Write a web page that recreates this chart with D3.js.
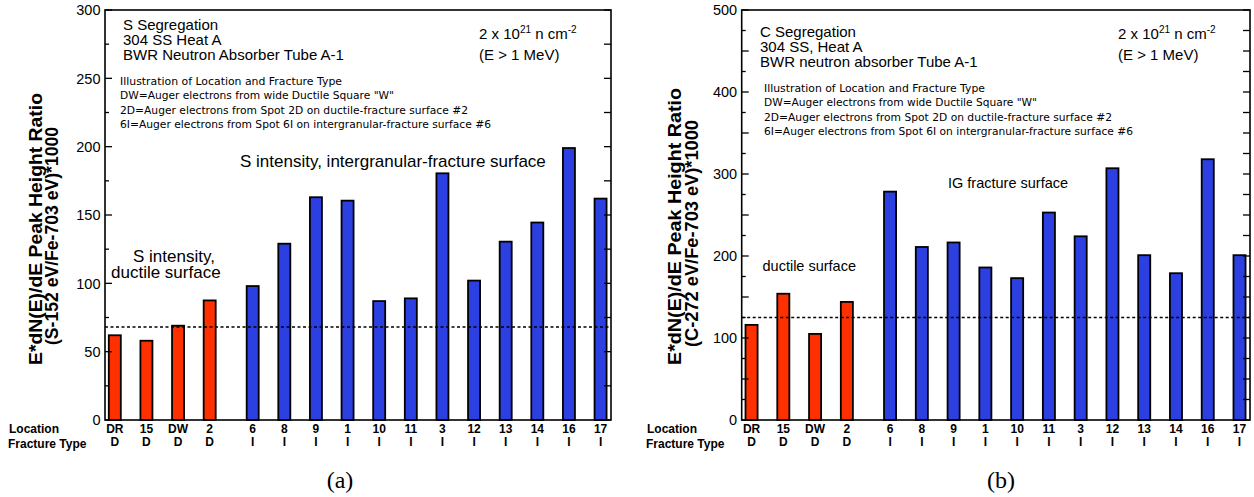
<!DOCTYPE html>
<html>
<head>
<meta charset="utf-8">
<script src="https://cdn.jsdelivr.net/npm/d3@7"></script>
<style>
  body { margin: 0; background: #fff; }
  svg { display: block; }
</style>
</head>
<body>
<svg id="chart" width="1254" height="497"></svg>
<script>
// Auger peak-height ratios per analysed spot (location / fracture type)
const locations = ["DR", "15", "DW", "2", "6", "8", "9", "1", "10", "11", "3", "12", "13", "14", "16", "17"];
const fractureTypes = ["D", "D", "D", "D", "I", "I", "I", "I", "I", "I", "I", "I", "I", "I", "I", "I"];
const sulfurRatio = [62, 58, 69, 87.5, 98, 129, 163, 160.5, 87, 89, 180.5, 102, 130.5, 144.5, 199, 162];
const carbonRatio = [116, 154, 105, 144, 278.5, 211, 216.5, 186, 173, 253, 224, 307, 201, 179, 318, 201];
const sulfurDuctileLevel = 68;
const carbonDuctileLevel = 125;
const sulfurTicks = [0, 50, 100, 150, 200, 250, 300];
const carbonTicks = [0, 100, 200, 300, 400, 500];
const legendLines = [
  "Illustration of Location and Fracture Type",
  "DW=Auger electrons from wide Ductile Square \"W\"",
  "2D=Auger electrons from Spot 2D on ductile-fracture surface #2",
  "6I=Auger electrons from Spot 6I on intergranular-fracture surface #6"
];

const SANS = "'Liberation Sans', Arial, Helvetica, sans-serif";
const SMALL = "'DejaVu Sans', 'Lucida Grande', sans-serif";
const RED = "#ff3000";
const BLUE = "#2c3fe0";
const GROUP_GAP = 0.36;   // extra space between ductile and intergranular spots

const svg = d3.select("#chart");

function drawPanel(p) {
  const g = svg.append("g");
  const x = d3.scaleLinear()
    .domain([-0.31, locations.length - 1 + GROUP_GAP + 0.33])
    .range([p.left, p.right]);
  const y = d3.scaleLinear().domain([0, p.yMax]).range([p.bottom, p.top]);
  const slot = i => i + (fractureTypes[i] === "I" ? GROUP_GAP : 0);
  const barW = x(0.38) - x(0);

  // bars
  g.selectAll("rect.bar").data(p.values).join("rect")
    .attr("class", "bar")
    .attr("x", (d, i) => x(slot(i)) - barW / 2)
    .attr("y", d => y(d))
    .attr("width", barW)
    .attr("height", d => y(0) - y(d))
    .attr("fill", (d, i) => fractureTypes[i] === "D" ? RED : BLUE)
    .attr("stroke", "#000")
    .attr("stroke-width", 1.8);

  // average ductile level
  g.append("line")
    .attr("x1", p.left).attr("x2", p.right)
    .attr("y1", y(p.level)).attr("y2", y(p.level))
    .attr("stroke", "#000").attr("stroke-width", 1.4)
    .attr("stroke-dasharray", "3,2.5");

  // frame
  g.append("rect")
    .attr("x", p.left).attr("y", p.top)
    .attr("width", p.right - p.left).attr("height", p.bottom - p.top)
    .attr("fill", "none").attr("stroke", "#000").attr("stroke-width", 1.6);

  // ticks: every 25 units, longer every 50, all pointing inward
  const tickVals = d3.range(0, p.yMax + 1, 25);
  g.selectAll("line.lt").data(tickVals).join("line")
    .attr("x1", p.left).attr("x2", d => p.left + (d % 50 === 0 ? 7 : 4))
    .attr("y1", d => y(d)).attr("y2", d => y(d))
    .attr("stroke", "#000").attr("stroke-width", 1.3);
  g.selectAll("line.rt").data(tickVals).join("line")
    .attr("x1", p.right).attr("x2", p.right - 7)
    .attr("y1", d => y(d)).attr("y2", d => y(d))
    .attr("stroke", "#000").attr("stroke-width", 1.3);

  g.selectAll("text.tick").data(p.ticks).join("text")
    .attr("x", p.left - 4.5).attr("y", d => y(d)).attr("dy", "0.36em")
    .attr("text-anchor", "end")
    .attr("font-family", SANS).attr("font-size", 14.5)
    .text(d => d);

  // y-axis title
  p.yTitle.forEach((t, k) => {
    g.append("text")
      .attr("transform", `translate(${p.titleX[k]},${p.titleY[k]}) rotate(-90)`)
      .attr("text-anchor", "middle")
      .attr("font-family", SANS).attr("font-weight", "bold").attr("font-size", 18)
      .attr("textLength", p.titleLen[k]).attr("lengthAdjust", "spacingAndGlyphs")
      .text(t);
  });

  // category labels
  const catRows = [locations, fractureTypes];
  catRows.forEach((row, r) => {
    g.selectAll(`text.cat${r}`).data(row).join("text")
      .attr("x", (d, i) => x(slot(i)))
      .attr("y", r === 0 ? p.bottom + 13 : p.bottom + 26)
      .attr("text-anchor", "middle")
      .attr("font-family", SANS).attr("font-weight", "bold").attr("font-size", 12)
      .text(d => d);
  });
  g.append("text").attr("x", p.rowLabelX).attr("y", p.bottom + 12.5)
    .attr("font-family", SANS).attr("font-weight", "bold").attr("font-size", 12)
    .text("Location");
  g.append("text").attr("x", p.rowLabelX - 1).attr("y", p.bottom + 28)
    .attr("font-family", SANS).attr("font-weight", "bold").attr("font-size", 12)
    .text("Fracture Type");

  // header block
  p.header.forEach((t, k) => {
    g.append("text").attr("x", p.headerX).attr("y", p.headerY + k * 15)
      .attr("font-family", SANS).attr("font-size", 15).text(t);
  });

  // fluence note
  const fl = g.append("text").attr("x", p.fluenceX).attr("y", 39)
    .attr("font-family", SANS).attr("font-size", 15);
  fl.append("tspan").text("2 x 10");
  fl.append("tspan").attr("dy", -6).attr("font-size", 10).text("21");
  fl.append("tspan").attr("dy", 6).text(" n cm");
  fl.append("tspan").attr("dy", -6).attr("font-size", 10).text("-2");
  g.append("text").attr("x", p.fluenceX).attr("y", 60)
    .attr("font-family", SANS).attr("font-size", 15).text("(E > 1 MeV)");

  // spot legend
  legendLines.forEach((t, k) => {
    g.append("text").attr("x", p.legendX).attr("y", p.legendY + k * 14.5)
      .attr("font-family", SMALL).attr("font-size", 11)
      .attr("textLength", p.legendLen[k]).attr("lengthAdjust", "spacingAndGlyphs")
      .text(t);
  });

  // annotations
  p.notes.forEach(n => {
    g.append("text").attr("x", n.x).attr("y", n.y)
      .attr("font-family", SANS).attr("font-size", n.size).text(n.text);
  });

  // panel caption
  g.append("text").attr("x", p.captionX).attr("y", 488)
    .attr("text-anchor", "middle")
    .attr("font-family", "'Liberation Serif', 'Times New Roman', serif").attr("font-size", 24)
    .text(p.caption);
}

drawPanel({
  left: 105, right: 611, top: 10, bottom: 420,
  yMax: 300, ticks: sulfurTicks, values: sulfurRatio, level: sulfurDuctileLevel,
  yTitle: ["E*dN(E)/dE Peak Height Ratio", "(S-152 eV/Fe-703 eV)*1000"],
  titleX: [41.5, 58], titleY: [229, 236], titleLen: [272, 218],
  rowLabelX: 9,
  header: ["S Segregation", "304 SS Heat A", "BWR Neutron Absorber Tube A-1"],
  headerX: 123, headerY: 30,
  fluenceX: 479,
  legendX: 120, legendY: 84.5, legendLen: [222, 274, 348, 371],
  notes: [
    { text: "S intensity, intergranular-fracture surface", x: 240, y: 166.5, size: 17 },
    { text: "S intensity,", x: 133, y: 261.5, size: 17 },
    { text: "ductile surface", x: 111, y: 278, size: 17 }
  ],
  caption: "(a)", captionX: 340
});

drawPanel({
  left: 741.7, right: 1250, top: 10, bottom: 420,
  yMax: 500, ticks: carbonTicks, values: carbonRatio, level: carbonDuctileLevel,
  yTitle: ["E*dN(E)/dE Peak Height Ratio", "(C-272 eV/Fe-703 eV)*1000"],
  titleX: [681, 697.5], titleY: [226.5, 233.5], titleLen: [277, 227],
  rowLabelX: 647,
  header: ["C Segregation", "304 SS, Heat A", "BWR neutron absorber Tube A-1"],
  headerX: 760, headerY: 37,
  fluenceX: 1118,
  legendX: 764, legendY: 91.7, legendLen: [221, 273, 348, 369],
  notes: [
    { text: "IG fracture surface", x: 948, y: 187.5, size: 14.5 },
    { text: "ductile surface", x: 762.5, y: 270.5, size: 14.5 }
  ],
  caption: "(b)", captionX: 1001
});
</script>
</body>
</html>
